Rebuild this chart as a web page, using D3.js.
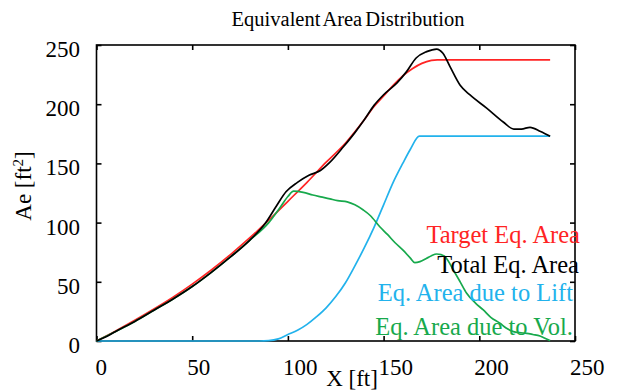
<!DOCTYPE html>
<html>
<head>
<meta charset="utf-8">
<script src="https://cdn.jsdelivr.net/npm/d3@7"></script>
<style>
  html, body { margin: 0; padding: 0; background: #fff; }
  svg { display: block; }
  text { font-family: "Liberation Serif", "Times New Roman", serif; }
</style>
</head>
<body>
<svg id="chart" width="620" height="391"></svg>
<script>
// Axis ticks
const xTicks = [0, 50, 100, 150, 200, 250];
const yTicks = [0, 50, 100, 150, 200, 250];

// Target equivalent area
const xTarget = [0, 10, 20, 30, 40, 50, 60, 70, 80, 90, 100, 110, 120, 130, 140, 145, 150, 155, 160, 165, 170, 175, 178, 237];
const target  = [0, 8.5, 17.5, 27, 37, 48, 60, 73, 87, 102, 118, 134, 151, 167, 187, 198, 207, 216, 224, 230, 234.5, 237, 237.5, 237.5];

// Total equivalent area
const xTotal = [0, 5, 10, 20, 30, 40, 50, 60, 70, 80, 88, 94, 99, 105, 111, 117, 122, 129, 135, 140, 145, 150, 157, 162, 167, 172.5, 177.7, 181, 184.7, 190, 195, 204, 212.5, 218, 222, 226.5, 232, 237];
const total  = [0, 3.5, 8, 16.5, 26, 35.5, 46, 58, 71, 85, 99, 114, 126, 134, 140, 144, 151, 164, 176, 187, 199, 208, 218, 227.5, 239, 244.4, 246.6, 243, 231.7, 216, 208, 196.5, 185, 179, 179, 180.5, 177, 173];

// Equivalent area due to lift
const xLift = [0, 85, 90, 95, 100, 105, 110, 115, 120, 125, 130, 135, 140, 145, 150, 155, 160, 164, 168.7, 237];
const lift  = [0, 0, 0.3, 1.8, 5.5, 9, 14, 20.5, 28, 37.5, 49, 63.5, 79, 96, 115, 134, 150, 162, 173, 173];

// Equivalent area due to volume
const xVol = [0, 10, 20, 30, 40, 50, 60, 70, 80, 90, 96, 100, 103, 108, 113, 118, 122, 126, 131, 135, 139.4, 143, 148, 152, 156, 160, 164, 166.3, 169, 172.5, 175, 177.7, 180, 182.1, 186.4, 190, 193.4, 198, 202.1, 206, 210.8, 214, 217.8, 221, 224.8, 228, 231.7, 234, 237];
const vol  = [0, 8, 16.5, 26, 35.5, 46, 58, 71, 85, 100, 113, 122, 126.5, 125.5, 123.3, 121.5, 120, 118.5, 117.5, 115, 110.6, 106, 96.5, 90, 83, 76.9, 70, 66.2, 67, 69.8, 72, 73.5, 73, 71.2, 60, 50, 40.3, 32, 26.2, 20, 15, 11, 7.9, 7, 6.5, 5.5, 4.2, 2.5, 0.3];

const legendLabels = ["Target Eq. Area", "Total Eq. Area", "Eq. Area due to Lift", "Eq. Area due to Vol."];

const COLORS = { target: "#ff2424", total: "#000000", lift: "#22b2ec", vol: "#17a94c" };

const svg = d3.select("#chart");
svg.append("rect").attr("width", 620).attr("height", 391).attr("fill", "#fff");

const plotLeft = 96.5, plotRight = 575, plotTop = 45, plotBottom = 341;
const x = d3.scaleLinear().domain([0, 250]).range([plotLeft, plotRight]);
const y = d3.scaleLinear().domain([0, 250]).range([plotBottom, plotTop]);

// Inward tick marks on all four sides
const tickLen = 5;
svg.append("g").attr("transform", `translate(0,${plotBottom})`)
  .call(d3.axisBottom(x).tickValues(xTicks).tickSize(-tickLen).tickFormat(""));
svg.append("g").attr("transform", `translate(0,${plotTop})`)
  .call(d3.axisTop(x).tickValues(xTicks).tickSize(-tickLen).tickFormat(""));
svg.append("g").attr("transform", `translate(${plotLeft},0)`)
  .call(d3.axisLeft(y).tickValues(yTicks).tickSize(-tickLen).tickFormat(""));
svg.append("g").attr("transform", `translate(${plotRight},0)`)
  .call(d3.axisRight(y).tickValues(yTicks).tickSize(-tickLen).tickFormat(""));
svg.selectAll(".domain").remove();
svg.selectAll(".tick line").attr("stroke", "#000").attr("stroke-width", 1.6);

// Plot frame
svg.append("rect")
  .attr("x", plotLeft).attr("y", plotTop)
  .attr("width", plotRight - plotLeft).attr("height", plotBottom - plotTop)
  .attr("fill", "none").attr("stroke", "#000").attr("stroke-width", 1.6);

// Tick labels
svg.append("g").selectAll("text").data(xTicks).join("text")
  .attr("x", d => x(d) - (d === 0 ? 1 : 5))
  .attr("y", 375)
  .attr("text-anchor", "start")
  .attr("font-size", 23)
  .attr("fill", "#000")
  .text(d => d);

svg.append("g").selectAll("text").data(yTicks).join("text")
  .attr("x", 80)
  .attr("y", d => y(d) + 12)
  .attr("text-anchor", "end")
  .attr("font-size", 23)
  .attr("fill", "#000")
  .text(d => d);

// Title and axis titles
svg.append("text")
  .attr("x", 348).attr("y", 26)
  .attr("text-anchor", "middle")
  .attr("font-size", 20.5)
  .attr("word-spacing", -2)
  .attr("fill", "#000")
  .text("Equivalent Area Distribution");

svg.append("text")
  .attr("x", 352).attr("y", 385.5)
  .attr("text-anchor", "middle")
  .attr("font-size", 23)
  .attr("fill", "#000")
  .text("X [ft]");

const yTitle = svg.append("text")
  .attr("transform", "translate(31,186) rotate(-90)")
  .attr("text-anchor", "middle")
  .attr("font-size", 23)
  .attr("fill", "#000");
yTitle.append("tspan").text("Ae [ft");
yTitle.append("tspan").attr("font-size", 15).attr("dy", -8).text("2");
yTitle.append("tspan").attr("dy", 8).text("]");

// Series lines
const line = d3.line().x(d => x(d[0])).y(d => y(d[1])).curve(d3.curveMonotoneX);
const series = [
  { xs: xTarget, ys: target, color: COLORS.target },
  { xs: xLift, ys: lift, color: COLORS.lift },
  { xs: xVol, ys: vol, color: COLORS.vol },
  { xs: xTotal, ys: total, color: COLORS.total }
];
series.forEach(s => {
  svg.append("path")
    .datum(d3.zip(s.xs, s.ys))
    .attr("fill", "none")
    .attr("stroke", s.color)
    .attr("stroke-width", 1.7)
    .attr("stroke-linejoin", "round")
    .attr("d", line);
});

// Legend text, right aligned inside the frame
const legendColors = [COLORS.target, COLORS.total, COLORS.lift, COLORS.vol];
const legendRight = [580, 579, 573, 573];
const legendBase = [243, 273, 301, 335];
svg.append("g").selectAll("text").data(legendLabels).join("text")
  .attr("x", (d, i) => legendRight[i])
  .attr("y", (d, i) => legendBase[i])
  .attr("text-anchor", "end")
  .attr("font-size", 24.5)
  .attr("fill", (d, i) => legendColors[i])
  .text(d => d);
</script>
</body>
</html>
